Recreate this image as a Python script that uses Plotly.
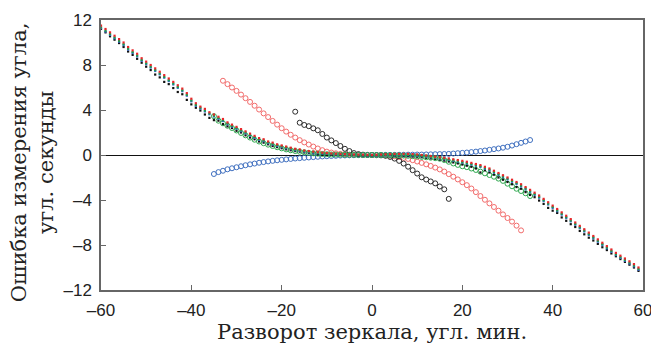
import plotly.graph_objects as go

# ---------------- data ----------------
# dotted measurement series (x = -60 .. 59, step 1)
dot_x = list(range(-60, 60))

dot_red = [
    11.5, 11.2, 10.9, 10.6, 10.3, 10.0, 9.6, 9.3, 9.0, 8.6,
    8.3, 8.0, 7.7, 7.4, 7.1, 6.8, 6.5, 6.2, 5.9, 5.5,
    5.0, 4.6, 4.3, 4.1, 3.8, 3.6, 3.4, 3.2, 2.9, 2.7,
    2.5, 2.3, 2.1, 1.9, 1.7, 1.5, 1.4, 1.2, 1.1, 0.95,
    0.85, 0.75, 0.65, 0.55, 0.5, 0.4, 0.35, 0.3, 0.25, 0.2,
    0.17, 0.14, 0.12, 0.1, 0.08, 0.06, 0.05, 0.04, 0.03, 0.02,
    0.0, 0.02, 0.04, 0.06, 0.08, 0.1, 0.1, 0.1, 0.1, 0.08,
    0.05, 0.0, -0.05, -0.1, -0.15, -0.2, -0.25, -0.3, -0.38, -0.45,
    -0.52, -0.6, -0.7, -0.8, -0.9, -1.05, -1.2, -1.4, -1.6, -1.8,
    -2.0, -2.2, -2.4, -2.6, -2.85, -3.1, -3.35, -3.6, -3.9, -4.2,
    -4.5, -4.8, -5.1, -5.4, -5.7, -6.0, -6.3, -6.6, -6.9, -7.2,
    -7.5, -7.8, -8.1, -8.4, -8.7, -8.95, -9.2, -9.45, -9.7, -10.0,
]
dot_green = [
    11.35, 11.05, 10.75, 10.45, 10.15, 9.85, 9.45, 9.15, 8.85, 8.45,
    8.15, 7.85, 7.55, 7.25, 6.95, 6.65, 6.35, 6.05, 5.75, 5.35,
    4.85, 4.45, 4.2, 3.95, 3.7, 3.5, 3.3, 3.1, 2.8, 2.6,
    2.4, 2.2, 2.0, 1.8, 1.6, 1.42, 1.3, 1.12, 1.0, 0.87,
    0.77, 0.67, 0.58, 0.48, 0.43, 0.34, 0.29, 0.25, 0.2, 0.16,
    0.13, 0.1, 0.08, 0.06, 0.05, 0.03, 0.02, 0.01, 0.0, 0.0,
    -0.02, 0.0, 0.01, 0.02, 0.03, 0.04, 0.03, 0.02, 0.01, -0.01,
    -0.04, -0.08, -0.13, -0.18, -0.23, -0.28, -0.34, -0.4, -0.47, -0.55,
    -0.62, -0.7, -0.8, -0.9, -1.0, -1.15, -1.3, -1.5, -1.7, -1.9,
    -2.1, -2.3, -2.5, -2.72, -2.97, -3.22, -3.47, -3.72, -4.02, -4.32,
    -4.62, -4.92, -5.22, -5.52, -5.82, -6.12, -6.42, -6.72, -7.02, -7.32,
    -7.62, -7.92, -8.22, -8.52, -8.82, -9.07, -9.32, -9.57, -9.82, -10.12,
]
dot_blue = [
    11.27, 10.97, 10.67, 10.37, 10.07, 9.77, 9.37, 9.07, 8.77, 8.37,
    8.07, 7.77, 7.47, 7.17, 6.87, 6.57, 6.27, 5.97, 5.67, 5.27,
    4.77, 4.37, 4.12, 3.87, 3.62, 3.42, 3.22, 3.02, 2.72, 2.52,
    2.32, 2.12, 1.92, 1.72, 1.52, 1.35, 1.23, 1.05, 0.93, 0.8,
    0.7, 0.6, 0.52, 0.42, 0.37, 0.29, 0.24, 0.2, 0.16, 0.12,
    0.1, 0.07, 0.05, 0.04, 0.03, 0.01, 0.0, -0.01, -0.02, -0.02,
    -0.04, -0.02, -0.01, 0.0, 0.01, 0.02, 0.01, 0.0, -0.02, -0.04,
    -0.07, -0.11, -0.16, -0.21, -0.26, -0.32, -0.38, -0.44, -0.51, -0.59,
    -0.67, -0.76, -0.86, -0.96, -1.07, -1.22, -1.37, -1.57, -1.77, -1.97,
    -2.17, -2.38, -2.58, -2.8, -3.05, -3.3, -3.55, -3.8, -4.1, -4.4,
    -4.7, -5.0, -5.3, -5.6, -5.9, -6.2, -6.5, -6.8, -7.1, -7.4,
    -7.7, -8.0, -8.3, -8.6, -8.9, -9.15, -9.4, -9.65, -9.9, -10.2,
]
dot_black = [
    11.2, 10.9, 10.55, 10.25, 9.95, 9.6, 9.2, 8.9, 8.55, 8.2,
    7.85, 7.55, 7.15, 6.9, 6.5, 6.3, 5.95, 5.6, 5.4, 4.9,
    4.5, 4.2, 3.95, 3.6, 3.3, 3.1, 3.05, 2.75, 2.55, 2.4,
    2.15, 2.0, 1.75, 1.55, 1.4, 1.2, 1.1, 0.95, 0.8, 0.7,
    0.6, 0.5, 0.42, 0.35, 0.3, 0.22, 0.18, 0.15, 0.1, 0.08,
    0.06, 0.04, 0.02, 0.01, 0.0, -0.01, -0.02, -0.03, -0.04, -0.05,
    -0.06, -0.05, -0.04, -0.04, -0.03, -0.03, -0.05, -0.07, -0.09, -0.12,
    -0.15, -0.2, -0.25, -0.3, -0.35, -0.42, -0.5, -0.58, -0.66, -0.75,
    -0.85, -0.95, -1.05, -1.2, -1.55, -1.35, -1.55, -1.75, -2.0, -2.2,
    -2.4, -2.6, -2.85, -3.0, -3.3, -3.55, -3.75, -4.05, -4.35, -4.7,
    -4.95, -5.15, -5.55, -5.85, -6.15, -6.4, -6.75, -7.05, -7.35, -7.6,
    -7.9, -8.2, -8.45, -8.75, -9.0, -9.25, -9.5, -9.75, -10.0, -10.3,
]

# open-circle series
red_c_x = list(range(-33, 34))
red_c_y = [
    6.6, 6.3, 6.0, 5.7, 5.37, 5.05, 4.72, 4.38, 4.04, 3.7,
    3.37, 3.03, 2.7, 2.38, 2.08, 1.8, 1.55, 1.32, 1.12, 0.93,
    0.75, 0.58, 0.43, 0.3, 0.22, 0.15, 0.1, 0.06, 0.03, 0.02,
    0.01, 0.0, 0.0, 0.0, -0.01, -0.02, -0.04, -0.07, -0.12, -0.18,
    -0.26, -0.35, -0.46, -0.58, -0.7, -0.83, -0.97, -1.12, -1.28, -1.47,
    -1.7, -1.93, -2.17, -2.42, -2.68, -2.98, -3.3, -3.65, -3.98, -4.3,
    -4.62, -4.95, -5.28, -5.6, -5.92, -6.28, -6.7,
]

black_c_x = list(range(-17, 18))
black_c_y = [
    3.85, 2.87, 2.67, 2.56, 2.37, 2.2, 1.87, 1.55, 1.3, 1.06,
    0.8, 0.55, 0.35, 0.17, 0.08, 0.03, 0.01, 0.0, -0.01, -0.03,
    -0.07, -0.17, -0.32, -0.52, -0.76, -1.04, -1.35, -1.65, -1.98, -2.18,
    -2.35, -2.52, -2.8, -3.05, -3.9,
]

blue_c_x = list(range(-35, 36))
blue_c_y = [
    -1.69, -1.52, -1.4, -1.27, -1.18, -1.09, -1.0, -0.91, -0.83, -0.76,
    -0.69, -0.63, -0.57, -0.52, -0.47, -0.43, -0.39, -0.35, -0.31, -0.28,
    -0.25, -0.22, -0.19, -0.16, -0.13, -0.11, -0.09, -0.07, -0.05, -0.04,
    -0.03, -0.02, -0.01, -0.01, 0.0, 0.0, 0.0, 0.0, 0.01, 0.01,
    0.01, 0.02, 0.02, 0.03, 0.03, 0.04, 0.04, 0.05, 0.06, 0.07,
    0.08, 0.09, 0.1, 0.13, 0.16, 0.19, 0.22, 0.26, 0.3, 0.35,
    0.4, 0.46, 0.52, 0.58, 0.65, 0.73, 0.84, 0.96, 1.08, 1.2,
    1.33,
]

green_c_x = list(range(-35, 36))
green_c_y = [
    3.45, 3.05, 2.82, 2.6, 2.4, 2.18, 1.96, 1.75, 1.55, 1.36,
    1.2, 1.05, 0.92, 0.8, 0.69, 0.59, 0.5, 0.42, 0.35, 0.29,
    0.24, 0.19, 0.15, 0.12, 0.09, 0.07, 0.05, 0.04, 0.03, 0.02,
    0.01, 0.01, 0.0, 0.0, 0.0, 0.0, 0.0, 0.0, -0.01, -0.01,
    -0.02, -0.03, -0.05, -0.07, -0.1, -0.13, -0.17, -0.2, -0.24, -0.28,
    -0.33, -0.45, -0.6, -0.75, -0.88, -1.0, -1.08, -1.2, -1.33, -1.48,
    -1.63, -1.78, -1.93, -2.1, -2.3, -2.55, -2.78, -3.0, -3.2, -3.4,
    -3.65,
]

x_ticks = [-60, -40, -20, 0, 20, 40, 60]
x_tick_text = ["–60", "–40", "–20", "0", "20", "40", "60"]
y_ticks = [-12, -8, -4, 0, 4, 8, 12]
y_tick_text = ["–12", "–8", "–4", "0", "4", "8", "12"]

x_title = "Разворот зеркала, угл. мин."
y_title = "Ошибка измерения угла,<br>угл. секунды"

# ---------------- figure ----------------
fig = go.Figure()

circle_series = [
    (red_c_x, red_c_y, "#f26b6b"),
    (black_c_x, black_c_y, "#2a2a2a"),
    (blue_c_x, blue_c_y, "#4070c0"),
    (green_c_x, green_c_y, "#2fa84f"),
]
for xs, ys, col in circle_series:
    fig.add_trace(go.Scatter(
        x=xs, y=ys, mode="markers",
        marker=dict(symbol="circle-open", size=5, color=col, line=dict(width=1, color=col)),
        showlegend=False, hoverinfo="skip",
    ))

dot_series = [
    (dot_black, "#111111"),
    (dot_blue, "#3366cc"),
    (dot_green, "#1f9e48"),
    (dot_red, "#e8262a"),
]
for ys, col in dot_series:
    fig.add_trace(go.Scatter(
        x=dot_x, y=ys, mode="markers",
        marker=dict(symbol="square", size=2.2, color=col, line=dict(width=0)),
        showlegend=False, hoverinfo="skip",
    ))

axis_common = dict(
    showline=True, linecolor="#666666", linewidth=1.5, mirror=True,
    ticks="inside", ticklen=5, tickwidth=1, tickcolor="#666666",
    showgrid=False, automargin=False, ticklabeloverflow="allow",
    tickfont=dict(family="Liberation Sans, Arial, sans-serif", size=17, color="#222222"),
)

fig.update_xaxes(
    range=[-60, 60], tickvals=x_ticks, ticktext=x_tick_text, zeroline=False,
    ticklabelstandoff=4, **axis_common,
)
fig.update_yaxes(
    range=[-12, 12], tickvals=y_ticks, ticktext=y_tick_text,
    zeroline=True, zerolinecolor="#111111", zerolinewidth=1.2,
    ticklabelstandoff=4, **axis_common,
)

serif = "DejaVu Serif, Liberation Serif, serif"
fig.add_annotation(
    text=x_title, xref="paper", yref="paper", x=0.5, y=-0.155,
    xanchor="center", yanchor="middle", showarrow=False,
    font=dict(family=serif, size=21, color="#222222"),
)
fig.add_annotation(
    text=y_title, xref="paper", yref="paper", x=-0.127, y=0.474,
    xanchor="center", yanchor="middle", showarrow=False, textangle=-90,
    font=dict(family=serif, size=21, color="#222222"),
)

fig.update_layout(
    width=651, height=347,
    margin=dict(l=101, r=8, t=20, b=57, autoexpand=False),
    plot_bgcolor="white", paper_bgcolor="white",
)

# remove the default page margin so the figure fills the window exactly
fig.write_html(
    "out.html",
    config={"displayModeBar": False},
    post_script="document.body.style.margin='0';document.body.style.overflow='hidden';",
)
